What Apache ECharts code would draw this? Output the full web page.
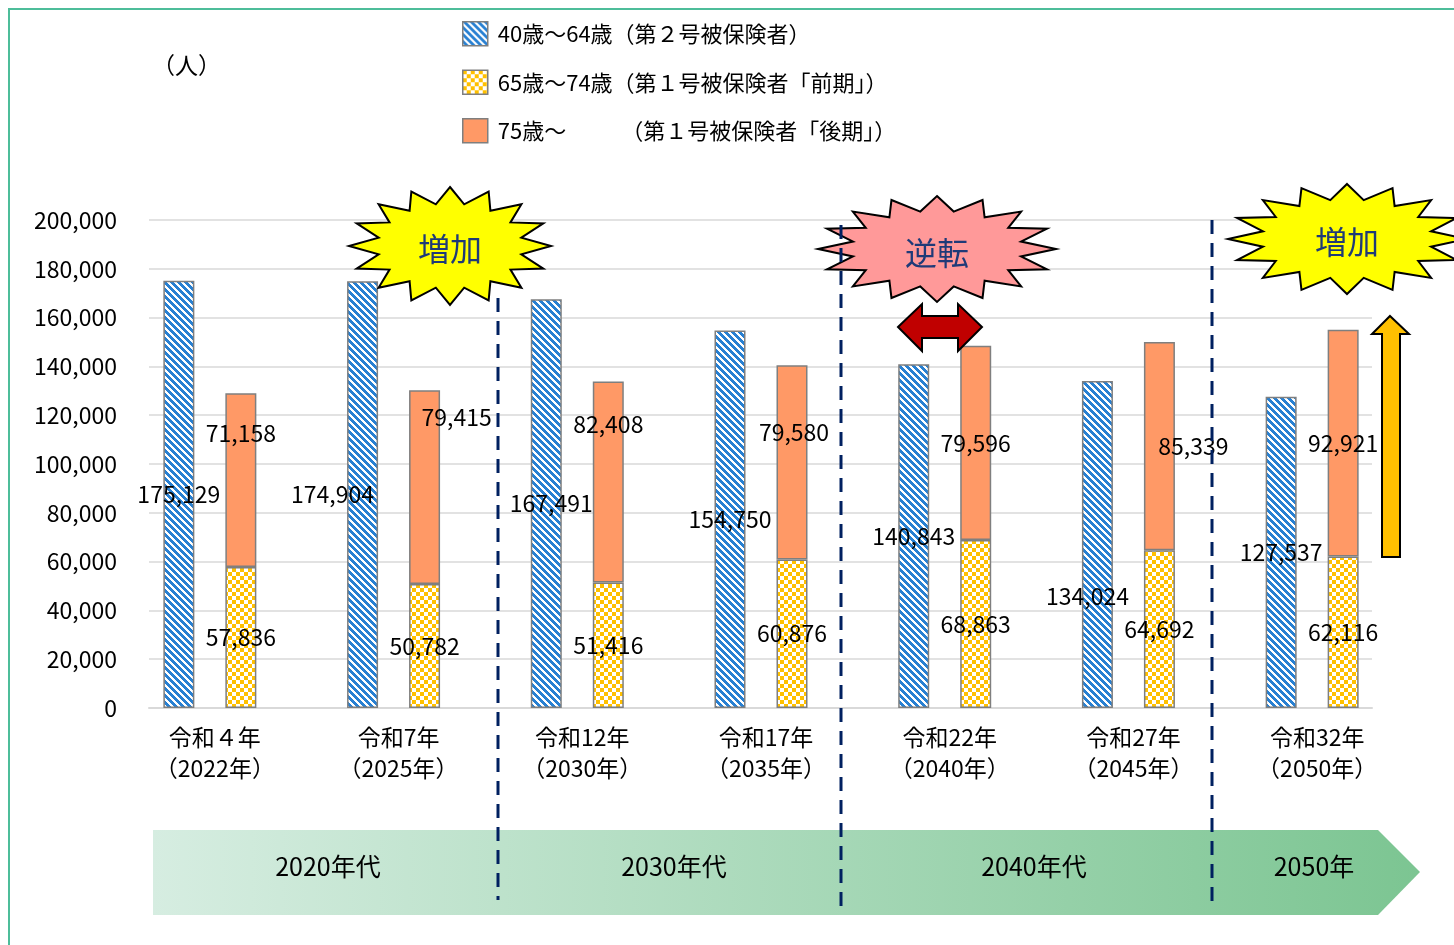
<!DOCTYPE html>
<html>
<head>
<meta charset="utf-8">
<script src="https://cdn.jsdelivr.net/npm/echarts@6/dist/echarts.min.js"></script>
<style>
  html, body { margin: 0; padding: 0; background: #fff; }
  #main { width: 1454px; height: 945px; }
</style>
</head>
<body>
<div id="main"></div>
<script>
const categories = ['令和４年\n（2022年）', '令和7年\n（2025年）', '令和12年\n（2030年）', '令和17年\n（2035年）', '令和22年\n（2040年）', '令和27年\n（2045年）', '令和32年\n（2050年）']
const age40to64 = [175129, 174904, 167491, 154750, 140843, 134024, 127537]
const age65to74 = [57836, 50782, 51416, 60876, 68863, 64692, 62116]
const age75plus = [71158, 79415, 82408, 79580, 79596, 85339, 92921]
const seriesNames = ['40歳～64歳（第２号被保険者）', '65歳～74歳（第１号被保険者「前期」）', '75歳～　　　（第１号被保険者「後期」）']
const decades = ['2020年代', '2030年代', '2040年代', '2050年']

// label nudges (px) so the numbers sit where the original put them
const blueOffsets = [[0, 0], [-30, 0], [5, 0], [0, 0], [0, 0], [-10, 52], [0, 0]]
const orangeOffsets = [[0, -47], [32, -70], [0, -58], [2, -30], [0, 0], [34, 0], [0, 0]]

const FONT = '"Noto Sans CJK JP", "Noto Sans", sans-serif'

function stripePattern() {
  const n = 7
  const c = document.createElement('canvas')
  c.width = n; c.height = n
  const ctx = c.getContext('2d')
  const img = ctx.createImageData(n, n)
  for (let y = 0; y < n; y++) {
    for (let x = 0; x < n; x++) {
      const i = (y * n + x) * 4
      const on = ((x - y + 2 * n) % n) < 4
      img.data[i] = on ? 40 : 255
      img.data[i + 1] = on ? 128 : 255
      img.data[i + 2] = on ? 210 : 255
      img.data[i + 3] = 255
    }
  }
  ctx.putImageData(img, 0, 0)
  return c
}

function checkerPattern() {
  const c = document.createElement('canvas')
  c.width = 8; c.height = 8
  const ctx = c.getContext('2d')
  ctx.fillStyle = '#fff'
  ctx.fillRect(0, 0, 8, 8)
  ctx.fillStyle = '#ffc000'
  ctx.fillRect(0, 0, 4, 4)
  ctx.fillRect(4, 4, 4, 4)
  return c
}

function star(cx, cy, rx, ry, n, ratio) {
  const pts = []
  for (let k = 0; k < n * 2; k++) {
    const a = -Math.PI / 2 + k * Math.PI / n
    const r = k % 2 === 0 ? 1 : ratio
    pts.push([cx + Math.cos(a) * rx * r, cy + Math.sin(a) * ry * r])
  }
  return pts
}

const fmt = v => v.toLocaleString('en-US')
const labelStyle = { show: true, color: '#000', fontSize: 23, fontFamily: FONT, formatter: p => fmt(p.value) }

const chart = echarts.init(document.getElementById('main'))

const dash = { stroke: '#002060', lineWidth: 3, lineDash: [14, 9] }

const option = {
  animation: false,
  textStyle: { fontFamily: FONT },
  legend: {
    orient: 'vertical',
    left: 462,
    top: 21,
    padding: 0,
    icon: 'rect',
    itemWidth: 25,
    itemHeight: 24,
    itemGap: 23,
    itemStyle: { borderColor: '#7f7f7f', borderWidth: 1.5 },
    textStyle: { fontSize: 22, lineHeight: 24, color: '#000', fontFamily: FONT, padding: [0, 0, 0, 5] },
    data: seriesNames
  },
  grid: [
    { left: 118, top: 220, width: 1286, height: 488 },
    { left: 149, top: 220, width: 1223, height: 488 }
  ],
  xAxis: [
    {
      type: 'category', gridIndex: 0, data: categories,
      axisLine: { show: false }, axisTick: { show: false },
      axisLabel: { color: '#000', fontSize: 23, lineHeight: 31, margin: 14, padding: [0, 0, 0, 10], fontFamily: FONT }
    },
    {
      type: 'value', gridIndex: 1, min: 0, max: 1,
      axisLine: { show: true, lineStyle: { color: '#d9d9d9', width: 2 } },
      axisTick: { show: false }, axisLabel: { show: false }, splitLine: { show: false }
    }
  ],
  yAxis: [
    { type: 'value', gridIndex: 0, min: 0, max: 200000, interval: 20000, show: false },
    {
      type: 'value', gridIndex: 1, min: 0, max: 200000, interval: 20000,
      axisLine: { show: false }, axisTick: { show: false },
      axisLabel: { color: '#000', fontSize: 23, margin: 32, fontFamily: FONT, formatter: v => fmt(v) },
      splitLine: { lineStyle: { color: '#d9d9d9', width: 1.5 } }
    }
  ],
  series: [
    {
      name: seriesNames[0], type: 'bar', xAxisIndex: 0, yAxisIndex: 0,
      barWidth: 31, barGap: '100%',
      itemStyle: { color: { image: stripePattern(), repeat: 'repeat' }, borderColor: '#7f7f7f', borderWidth: 1.5 },
      label: Object.assign({ position: 'inside' }, labelStyle),
      data: age40to64.map((v, i) => ({ value: v, label: { offset: blueOffsets[i] } }))
    },
    {
      name: seriesNames[1], type: 'bar', stack: 'old', xAxisIndex: 0, yAxisIndex: 0,
      barWidth: 31,
      itemStyle: { color: { image: checkerPattern(), repeat: 'repeat' }, borderColor: '#7f7f7f', borderWidth: 1.5 },
      label: Object.assign({ position: 'inside' }, labelStyle),
      data: age65to74
    },
    {
      name: seriesNames[2], type: 'bar', stack: 'old', xAxisIndex: 0, yAxisIndex: 0,
      barWidth: 31,
      itemStyle: { color: '#ff9966', borderColor: '#7f7f7f', borderWidth: 1.5 },
      label: Object.assign({ position: 'inside' }, labelStyle),
      data: age75plus.map((v, i) => ({ value: v, label: { offset: orangeOffsets[i] } }))
    }
  ],
  graphic: [
    // frame
    { type: 'line', shape: { x1: 8, y1: 9, x2: 1454, y2: 9 }, style: { stroke: '#4dbd9a', lineWidth: 2 }, z: 1 },
    { type: 'line', shape: { x1: 9, y1: 8, x2: 9, y2: 945 }, style: { stroke: '#4dbd9a', lineWidth: 2 }, z: 1 },
    { type: 'text', left: 152, top: 54, style: { text: '（人）', fontSize: 23, fill: '#000', fontFamily: FONT } },
    // decade band
    {
      type: 'polygon', z: 1,
      shape: { points: [[153, 830], [1378, 830], [1420, 872], [1378, 915], [153, 915]] },
      style: {
        fill: new echarts.graphic.LinearGradient(0, 0, 1, 0, [
          { offset: 0, color: '#d6ede1' }, { offset: 1, color: '#7cc592' }
        ])
      }
    },
    ...decades.map((t, i) => ({
      type: 'text', z: 3,
      x: [328, 674, 1034, 1314][i], y: 866,
      style: { text: t, fontSize: 25, fill: '#000', fontFamily: FONT, align: 'center', verticalAlign: 'middle' }
    })),
    // stars
    { type: 'polygon', z: 5, shape: { points: star(450, 246, 101, 59, 16, 0.72) }, style: { fill: '#ffff00', stroke: '#000', lineWidth: 2 } },
    { type: 'text', z: 6, x: 450, y: 249, style: { text: '増加', fontSize: 32, fill: '#1f3a78', fontFamily: FONT, align: 'center', verticalAlign: 'middle' } },
    { type: 'polygon', z: 5, shape: { points: star(937, 249, 119, 53, 16, 0.72) }, style: { fill: '#ff9999', stroke: '#000', lineWidth: 2 } },
    { type: 'text', z: 6, x: 937, y: 253, style: { text: '逆転', fontSize: 32, fill: '#1f3a78', fontFamily: FONT, align: 'center', verticalAlign: 'middle' } },
    { type: 'polygon', z: 5, shape: { points: star(1347, 239, 119, 55, 16, 0.72) }, style: { fill: '#ffff00', stroke: '#000', lineWidth: 2 } },
    { type: 'text', z: 6, x: 1347, y: 242, style: { text: '増加', fontSize: 32, fill: '#1f3a78', fontFamily: FONT, align: 'center', verticalAlign: 'middle' } },
    // dashed separators
    { type: 'line', z: 7, shape: { x1: 498, y1: 298, x2: 498, y2: 900 }, style: dash },
    { type: 'line', z: 7, shape: { x1: 841, y1: 225, x2: 841, y2: 915 }, style: dash },
    { type: 'line', z: 7, shape: { x1: 1212, y1: 220, x2: 1212, y2: 907 }, style: dash },
    // arrows
    {
      type: 'polygon', z: 6,
      shape: { points: [[898, 327], [922, 304], [922, 316], [958, 316], [958, 304], [982, 327], [958, 351], [958, 338], [922, 338], [922, 351]] },
      style: { fill: '#c00000', stroke: '#000', lineWidth: 2 }
    },
    {
      type: 'polygon', z: 6,
      shape: { points: [[1390, 316], [1409, 334], [1400, 334], [1400, 557], [1382, 557], [1382, 334], [1372, 334]] },
      style: { fill: '#ffc000', stroke: '#000', lineWidth: 2 }
    }
  ]
}

chart.setOption(option)
</script>
</body>
</html>
